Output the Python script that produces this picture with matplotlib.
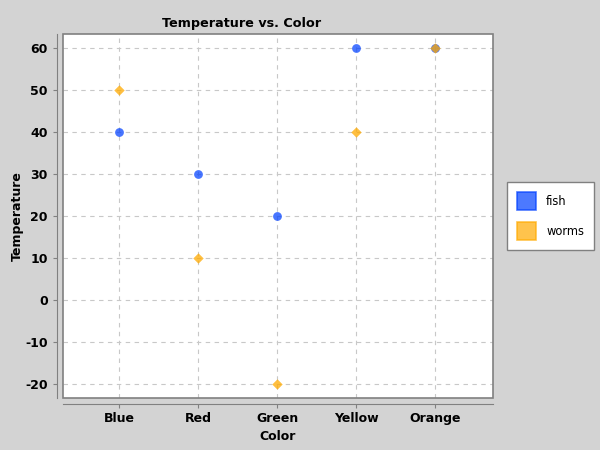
import matplotlib
matplotlib.use("Agg")
import matplotlib.pyplot as plt
from matplotlib.patches import Patch, Rectangle

plt.rcParams["axes.unicode_minus"] = False

categories = ["Blue", "Red", "Green", "Yellow", "Orange"]
fish = [40, 30, 20, 60, 60]
worms = [50, 10, -20, 40, 60]
yticks = [-20, -10, 0, 10, 20, 30, 40, 50, 60]

fish_color = "#0040FF"
worms_color = "#FFAA00"

fig = plt.figure(figsize=(6, 4.5), dpi=100, facecolor="#D3D3D3")
ax = fig.add_axes([63/600, 1-398/450, 430/600, 364/450])
ax.set_facecolor("white")

x = list(range(len(categories)))
ax.scatter(x, fish, marker="o", s=40, color=fish_color, alpha=0.72, linewidths=0, zorder=3)
ax.scatter(x, worms, marker="D", s=28, color=worms_color, alpha=0.75, linewidths=0, zorder=4)

ax.set_xlim(-0.71, 4.73)
ax.set_ylim(-23.33, 63.33)
ax.set_xticks(x)
ax.set_xticklabels(categories)
ax.set_yticks(yticks)
ax.grid(True, color="#C8C8C8", linestyle=(0, (4, 4)), linewidth=0.8)
ax.set_axisbelow(True)

for s in ["top", "right"]:
    ax.spines[s].set_visible(False)
for s in ["left", "bottom"]:
    ax.spines[s].set_position(("outward", 4))
    ax.spines[s].set_color("#808080")
ax.add_patch(Rectangle((0, 0), 1, 1, transform=ax.transAxes, fill=False,
                       edgecolor="#808080", linewidth=1.2, clip_on=False, zorder=5))

ax.tick_params(axis="both", colors="#808080", labelcolor="black", length=3, labelsize=9)
for lab in ax.get_xticklabels() + ax.get_yticklabels():
    lab.set_fontweight("bold")
ax.tick_params(axis="x", pad=3)
ax.tick_params(axis="y", pad=4)

fig.text(242/600, 1-23/450, "Temperature vs. Color", fontsize=9.2, fontweight="bold",
         ha="center", va="center")
ax.set_xlabel("Color", fontsize=9, fontweight="bold")
ax.set_ylabel("Temperature", fontsize=9, fontweight="bold")
ax.xaxis.set_label_coords(0.5, (398-436)/364)
ax.yaxis.set_label_coords((17-63)/430, 0.5)
ax.xaxis.label.set_va("center")
ax.yaxis.label.set_va("center")

handles = [
    Patch(facecolor=fish_color, alpha=0.7, edgecolor=fish_color, linewidth=1.2, label="fish"),
    Patch(facecolor=worms_color, alpha=0.7, edgecolor=worms_color, linewidth=1.2, label="worms"),
]
leg = fig.legend(handles=handles, loc="center left", bbox_to_anchor=(507/600, 1-216/450),
                 fontsize=8.3, frameon=True, fancybox=False, edgecolor="#808080",
                 facecolor="white", framealpha=1.0, borderaxespad=0,
                 handlelength=1.65, handleheight=2.05, borderpad=0.85, labelspacing=1.05,
                 handletextpad=0.9)
leg.get_frame().set_linewidth(1.0)

fig.savefig("out.png", dpi=100, facecolor=fig.get_facecolor())
